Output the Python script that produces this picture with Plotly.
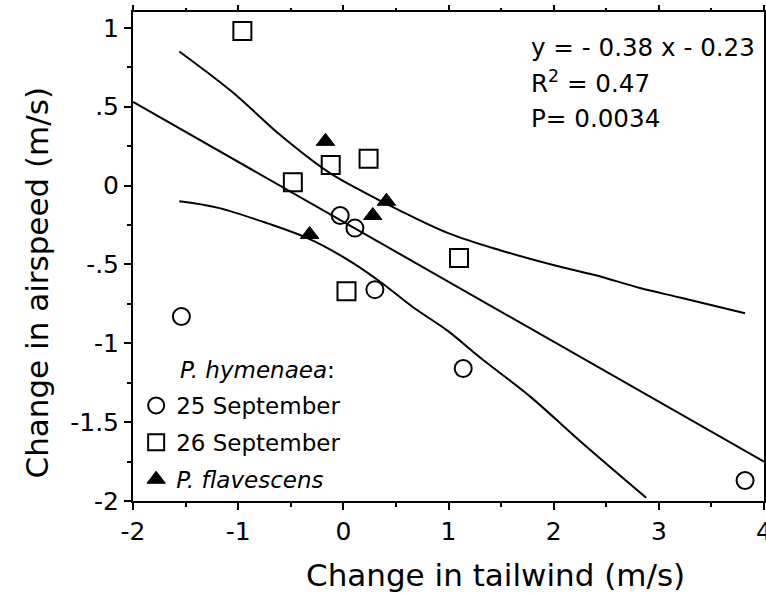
import plotly.graph_objects as go

# ---- data ----
sep25_x = [-1.54, -0.03, 0.11, 0.30, 1.14, 3.82]
sep25_y = [-0.83, -0.19, -0.27, -0.66, -1.16, -1.87]

sep26_x = [-0.96, -0.48, -0.12, 0.24, 0.03, 1.10]
sep26_y = [0.98, 0.02, 0.13, 0.17, -0.67, -0.46]

flav_x = [-0.17, -0.32, 0.28, 0.41]
flav_y = [0.28, -0.31, -0.19, -0.10]

slope = -0.38
intercept = -0.23
fit_x = [-2, 4]
fit_y = [slope * v + intercept for v in fit_x]

upper_x = [-1.56, -1.05, -0.60, -0.13, 0.19, 0.51, 0.99, 1.49, 2.09, 2.41, 2.82, 3.20, 3.82]
upper_y = [0.85, 0.59, 0.32, 0.08, -0.04, -0.15, -0.30, -0.41, -0.52, -0.57, -0.65, -0.71, -0.81]

lower_x = [-1.56, -1.20, -0.72, -0.32, 0.04, 0.35, 0.66, 0.99, 1.30, 1.78, 2.25, 2.88]
lower_y = [-0.10, -0.14, -0.24, -0.34, -0.47, -0.61, -0.77, -0.92, -1.09, -1.34, -1.62, -1.98]

x_ticks = [-2, -1, 0, 1, 2, 3, 4]
x_ticktext = ["-2", "-1", "0", "1", "2", "3", "4"]
y_ticks = [1, 0.5, 0, -0.5, -1, -1.5, -2]
y_ticktext = ["1", ".5", "0", "-.5", "-1", "-1.5", "-2"]

stats_lines = ["y = - 0.38 x - 0.23", "R<sup>2</sup> = 0.47", "P= 0.0034"]
legend_title = "<i>P. hymenaea</i>:"
x_title = "Change in tailwind (m/s)"
y_title = "Change in airspeed (m/s)"

FONT = "DejaVu Sans"
BLACK = "#000000"

fig = go.Figure()

line_style = dict(color=BLACK, width=2)
fig.add_trace(go.Scatter(x=fit_x, y=fit_y, mode="lines", line=line_style,
                         showlegend=False, hoverinfo="skip"))
fig.add_trace(go.Scatter(x=upper_x, y=upper_y, mode="lines", line=dict(line_style, shape="spline"),
                         showlegend=False, hoverinfo="skip"))
fig.add_trace(go.Scatter(x=lower_x, y=lower_y, mode="lines", line=dict(line_style, shape="spline"),
                         showlegend=False, hoverinfo="skip"))

fig.add_trace(go.Scatter(
    x=sep25_x, y=sep25_y, mode="markers", name="25 September", legendgroup="a",
    marker=dict(symbol="circle-open", size=17, color=BLACK, line=dict(width=2, color=BLACK))))
fig.add_trace(go.Scatter(
    x=sep26_x, y=sep26_y, mode="markers", name="26 September", legendgroup="b",
    marker=dict(symbol="square-open", size=18, color=BLACK, line=dict(width=2, color=BLACK))))
fig.add_trace(go.Scatter(
    x=flav_x, y=flav_y, mode="markers", name="<i>P. flavescens</i>", legendgroup="c",
    marker=dict(symbol="triangle-up", size=16, color=BLACK, line=dict(width=1, color=BLACK))))

# top axis ticks (no labels)
fig.add_trace(go.Scatter(x=[None], y=[None], xaxis="x2", showlegend=False, hoverinfo="skip"))

fig.update_layout(
    template="none",
    width=766, height=596,
    margin=dict(l=133, r=2, t=12, b=95, autoexpand=False),
    paper_bgcolor="white", plot_bgcolor="white",
    font=dict(family=FONT, size=20, color=BLACK),
    xaxis=dict(
        range=[-2, 4], tickvals=x_ticks, ticktext=x_ticktext, automargin=False,
        showgrid=False, zeroline=False, ticklabeloverflow="allow",
        showline=True, linecolor=BLACK, linewidth=2, mirror=True,
        ticks="outside", ticklen=7, tickwidth=2, tickcolor=BLACK,
        minor=dict(dtick=0.5, ticks="outside", ticklen=4, tickwidth=2, tickcolor=BLACK, showgrid=False),
        tickfont=dict(size=25),
    ),
    xaxis2=dict(
        range=[-2, 4], overlaying="x", side="top", tickvals=x_ticks, automargin=False,
        showticklabels=False, showgrid=False, zeroline=False,
        ticks="outside", ticklen=6, tickwidth=2, tickcolor=BLACK,
        minor=dict(dtick=0.5, ticks="outside", ticklen=3, tickwidth=2, tickcolor=BLACK, showgrid=False),
    ),
    yaxis=dict(
        range=[-2, 1.1], tickvals=y_ticks, ticktext=y_ticktext, automargin=False,
        showgrid=False, zeroline=False,
        showline=True, linecolor=BLACK, linewidth=2, mirror=True,
        ticks="outside", ticklen=7, tickwidth=2, tickcolor=BLACK,
        minor=dict(dtick=0.25, ticks="outside", ticklen=4, tickwidth=2, tickcolor=BLACK, showgrid=False),
        tickfont=dict(size=25),
    ),
    legend=dict(
        x=0.005, y=0.0, xanchor="left", yanchor="bottom",
        bgcolor="rgba(0,0,0,0)", borderwidth=0,
        font=dict(size=23, family=FONT),
        tracegroupgap=4,
    ),
    showlegend=True,
)

# legend heading
fig.add_annotation(x=0.072, y=0.268, xref="paper", yref="paper", text=legend_title,
                   showarrow=False, xanchor="left", yanchor="middle",
                   font=dict(size=23, family=FONT, color=BLACK))

# axis titles
fig.add_annotation(x=0.575, y=-0.151, xref="paper", yref="paper", text=x_title,
                   showarrow=False, xanchor="center", yanchor="middle",
                   font=dict(size=31, family=FONT, color=BLACK))
fig.add_annotation(x=-0.152, y=0.447, xref="paper", yref="paper", text=y_title,
                   showarrow=False, xanchor="center", yanchor="middle", textangle=-90,
                   font=dict(size=31, family=FONT, color=BLACK))

ann_x = 0.628
for txt, yy in zip(stats_lines, [0.928, 0.857, 0.783]):
    fig.add_annotation(x=ann_x, y=yy, xref="paper", yref="paper", text=txt,
                       showarrow=False, xanchor="left", yanchor="middle",
                       font=dict(size=24.6, family=FONT, color=BLACK))

page_fix = (
    "document.documentElement.style.overflow='hidden';"
    "document.body.style.margin='0px';"
    "document.body.style.overflow='hidden';"
    "var gd=document.querySelector('.plotly-graph-div');"
    "if(gd&&gd.parentElement){gd.parentElement.style.height='596px';"
    "gd.parentElement.style.overflow='hidden';}"
)
fig.write_html("out.html", config={"displayModeBar": False}, post_script=page_fix)
